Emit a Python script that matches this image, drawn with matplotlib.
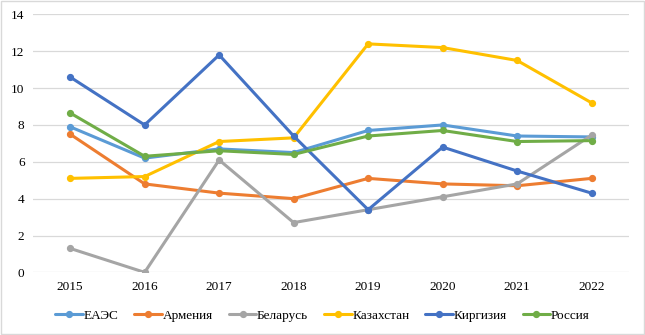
import matplotlib
matplotlib.use("Agg")
import matplotlib.pyplot as plt
from matplotlib.patches import Rectangle

# data
years = ["2015", "2016", "2017", "2018", "2019", "2020", "2021", "2022"]
eaes = [7.9, 6.2, 6.7, 6.5, 7.7, 8.0, 7.4, 7.35]
armenia = [7.5, 4.8, 4.3, 4.0, 5.1, 4.8, 4.7, 5.1]
belarus = [1.3, 0.0, 6.1, 2.7, 3.4, 4.1, 4.8, 7.45]
kazakhstan = [5.1, 5.2, 7.1, 7.3, 12.4, 12.2, 11.5, 9.2]
kyrgyzstan = [10.6, 8.0, 11.8, 7.4, 3.4, 6.8, 5.5, 4.3]
russia = [8.65, 6.3, 6.6, 6.4, 7.4, 7.7, 7.1, 7.15]

series = [
    ("ЕАЭС", eaes, "#5B9BD5"),
    ("Армения", armenia, "#ED7D31"),
    ("Беларусь", belarus, "#A5A5A5"),
    ("Казахстан", kazakhstan, "#FFC000"),
    ("Киргизия", kyrgyzstan, "#4472C4"),
    ("Россия", russia, "#70AD47"),
]

plt.rcParams["font.family"] = ["Liberation Serif", "DejaVu Serif"]

fig = plt.figure(figsize=(6.45, 3.35), dpi=100)
ax = fig.add_axes([0.051, 0.187, 0.924, 0.770])

x = list(range(len(years)))
for name, vals, color in series:
    ax.plot(x, vals, color=color, lw=2.2, marker="o", ms=4.2, label=name,
            solid_capstyle="round", zorder=3)

ax.set_xlim(-0.5, len(years) - 0.5)
ax.set_ylim(0, 14)
ax.set_yticks(range(0, 15, 2))
ax.set_xticks(x)
ax.set_xticklabels(years)
ax.grid(axis="y", color="#D9D9D9", lw=0.9, zorder=0)
ax.tick_params(length=0, labelsize=9.5, colors="#000000", pad=6)
for s in ax.spines.values():
    s.set_visible(False)

leg = fig.legend(loc="center", bbox_to_anchor=(0.5, 0.057), ncol=6, frameon=False,
                 fontsize=9.5, handlelength=2.1, handletextpad=0.05,
                 columnspacing=1.2)

# light frame around the whole chart
fig.patches.append(Rectangle((0.001, 0.002), 0.997, 0.995, transform=fig.transFigure,
                             fill=False, edgecolor="#D9D9D9", lw=1.0))

fig.savefig("out.png", dpi=100)
